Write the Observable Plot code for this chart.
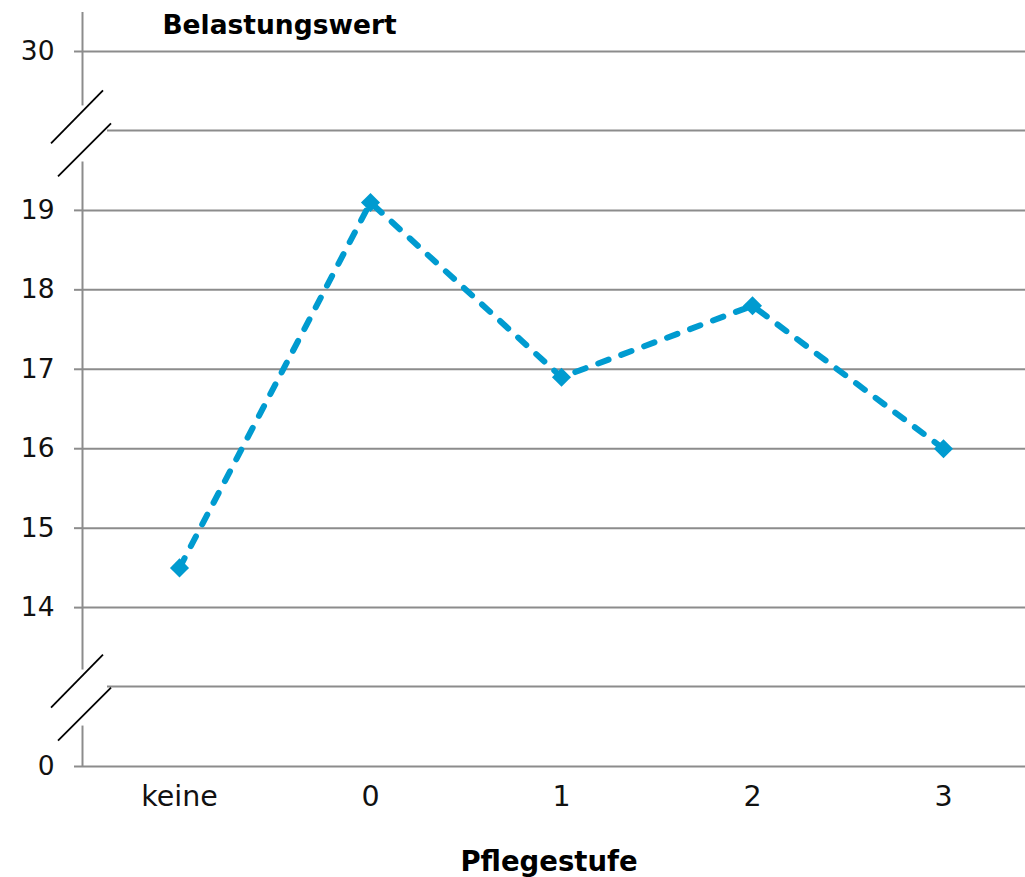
<!DOCTYPE html>
<html>
<head>
<meta charset="utf-8">
<script src="https://cdn.jsdelivr.net/npm/d3@7"></script>
<script src="https://cdn.jsdelivr.net/npm/@observablehq/plot@0.6"></script>
<style>
  html, body { margin: 0; padding: 0; background: #fff; }
  #chart svg { display: block; }
</style>
</head>
<body>
<div id="chart"></div>
<script>
// ---- data ----
const categories = ["keine", "0", "1", "2", "3"];
const values = [14.5, 19.1, 16.9, 17.8, 16.0];
const yTickValues = [0, 14, 15, 16, 17, 18, 19, 30];
const yTitle = "Belastungswert";
const xTitle = "Pflegestufe";

// ---- broken axis transform: 0 | break | 14..19 | break | 30 ----
const toDisplay = v => v === 0 ? 0 : v === 30 ? 9 : v - 12;
const breakDisplay = [1, 8];

const color = "#009BD0";
const gridColor = "#8c8c8c";
const W = 1025, H = 877, ML = 82, MT = 51, MB = 111, MR = 0;

const data = categories.map((c, i) => ({category: c, value: values[i]}));

const plot = Plot.plot({
  width: W,
  height: H,
  marginLeft: ML,
  marginRight: MR,
  marginTop: MT,
  marginBottom: MB,
  style: {fontFamily: "DejaVu Sans, Verdana, sans-serif", background: "#fff", overflow: "visible"},
  x: {type: "point", domain: categories, range: [ML, ML + (W - ML) * 1.0155], padding: 0.5},
  y: {domain: [0, 9], range: [H - MB, MT]},
  marks: [
    Plot.ruleY(yTickValues.map(toDisplay), {stroke: gridColor, strokeWidth: 2}),
    Plot.axisY({
      ticks: yTickValues.map(toDisplay),
      tickFormat: d => String(yTickValues[yTickValues.map(toDisplay).indexOf(d)]),
      tickSize: 8,
      tickPadding: 20,
      fontSize: 26.5,
      stroke: gridColor,
      strokeWidth: 2,
      strokeOpacity: 1,
      fill: "#111",
      label: null
    }),
    Plot.axisX({
      tickSize: 0,
      tickPadding: 19,
      fontSize: 28.5,
      fill: "#111",
      label: null
    }),
    Plot.line(data, {
      x: "category",
      y: d => toDisplay(d.value),
      stroke: color,
      strokeWidth: 6,
      strokeDasharray: "11,13.5",
      strokeLinecap: "round"
    }),
    Plot.dot(data, {
      x: "category",
      y: d => toDisplay(d.value),
      symbol: "diamond2",
      r: 8.6,
      fill: color,
      stroke: "none"
    }),
    Plot.text([yTitle], {
      frameAnchor: "top-left",
      dx: 197,
      dy: -18,
      textAnchor: "middle",
      lineAnchor: "bottom",
      fontSize: 26.5,
      fontWeight: "bold",
      fill: "#000"
    }),
    Plot.text([xTitle], {
      frameAnchor: "bottom",
      dx: -5,
      dy: 104,
      lineAnchor: "bottom",
      fontSize: 27.5,
      fontWeight: "bold",
      fill: "#000"
    })
  ]
});

// ---- decorations for the broken axis ----
const svg = d3.select(plot);
const y = plot.scale("y");
const yPx = v => y.apply(v);
const deco = svg.append("g");
const shifts = {1: 0, 8: -8};

// axis line with gaps, built from top to bottom
const gaps = breakDisplay.map(b => {
  const yc = yPx(b) + shifts[b];
  return [yc - 17, yc + 39];
}).sort((a, b) => a[0] - b[0]);
const axisTop = yPx(9) - 39, axisBottom = yPx(0);
const segs = [];
let start = axisTop;
gaps.forEach(g => { segs.push([start, g[0]]); start = g[1]; });
segs.push([start, axisBottom]);
segs.forEach(s => {
  deco.append("line")
    .attr("x1", ML + 0.5).attr("x2", ML + 0.5)
    .attr("y1", s[0]).attr("y2", s[1])
    .attr("stroke", gridColor).attr("stroke-width", 2);
});

breakDisplay.forEach(b => {
  const yg = yPx(b);
  deco.append("line")
    .attr("x1", ML + 25).attr("x2", W)
    .attr("y1", yg).attr("y2", yg)
    .attr("stroke", gridColor).attr("stroke-width", 2);
  const yc = yg + shifts[b];
  deco.append("line")
    .attr("x1", ML - 31).attr("y1", yc + 21)
    .attr("x2", ML + 21).attr("y2", yc - 32)
    .attr("stroke", "#000").attr("stroke-width", 1.8);
  deco.append("line")
    .attr("x1", ML - 24).attr("y1", yc + 54)
    .attr("x2", ML + 29).attr("y2", yc + 1)
    .attr("stroke", "#000").attr("stroke-width", 1.8);
});

// keep data marks on top of decorations
svg.selectAll("g[aria-label='line'], g[aria-label='dot']").raise();

document.getElementById("chart").appendChild(plot);
</script>
</body>
</html>
